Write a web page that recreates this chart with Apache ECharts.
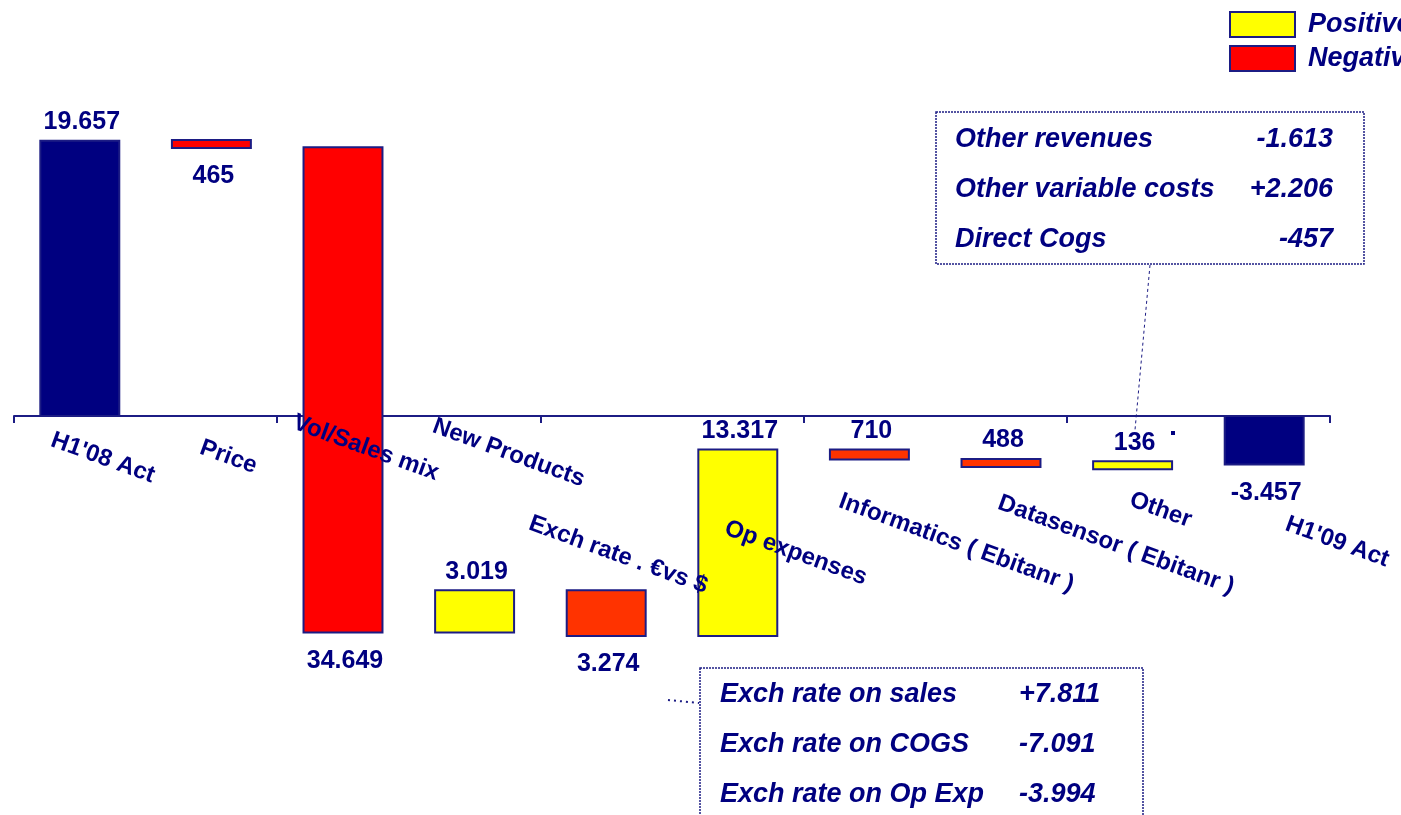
<!DOCTYPE html>
<html>
<head>
<meta charset="utf-8">
<script src="https://cdn.jsdelivr.net/npm/echarts@6/dist/echarts.min.js"></script>
<style>
  html, body { margin: 0; padding: 0; background: #fff; }
  #chart { width: 1401px; height: 815px; }
</style>
</head>
<body>
<div id="chart"></div>
<script>
// waterfall data (values in thousands, shown with dot separator)
const categories = ["H1'08 Act", 'Price', 'Vol/Sales mix', 'New Products', 'Exch rate . €vs $',
  'Op expenses', 'Informatics ( Ebitanr )', 'Datasensor ( Ebitanr )', 'Other', "H1'09 Act"];
const openingTotal = 19657;
const changes = [-465, -34649, 3019, -3274, 13317, -710, -488, 136];
const closingTotal = -3457;

// side notes
const otherNotes = ['Other revenues', 'Other variable costs', 'Direct Cogs'];
const otherNoteValues = ['-1.613', '+2.206', '-457'];
const exchNotes = ['Exch rate on sales', 'Exch rate on COGS', 'Exch rate on Op Exp'];
const exchNoteValues = ['+7.811', '-7.091', '-3.994'];

// styling per bar
const barFill = ['#000080', '#FF0000', '#FF0000', '#FFFF00', '#FF3300', '#FFFF00', '#FF3300', '#FF3300', '#FFFF00', '#000080'];
const labelSide = ['top', 'bottom', 'bottom', 'top', 'bottom', 'top', 'top', 'top', 'top', 'bottom'];
// category label nudges (px) from bar centre on the zero line
const catLabelOffset = [[23, 42], [17, 41], [23, 32], [34, 37], [12, 139], [58, 137], [87, 127], [115, 129], [28, 94], [73, 126]];

const NAVY = '#000080';
const EDGE = '#1c1c84';

function fmt(v, signed) {
  const s = String(Math.abs(v)).replace(/\B(?=(\d{3})+(?!\d))/g, '.');
  return (signed && v < 0 ? '-' : '') + s;
}

// build waterfall steps
const totalData = [[0, 0, openingTotal, openingTotal], [categories.length - 1, 0, closingTotal, closingTotal]];
const posData = [];
const negData = [];
let run = openingTotal;
changes.forEach(function (d, k) {
  const item = [k + 1, run, run + d, d];
  (d >= 0 ? posData : negData).push(item);
  run += d;
});

function renderBar(params, api) {
  const i = api.value(0);
  const a = api.coord([i, api.value(1)]);
  const b = api.coord([i, api.value(2)]);
  const w = api.size([1, 0])[0] * 0.6;
  let top = Math.min(a[1], b[1]);
  let h = Math.abs(a[1] - b[1]);
  if (h < 8) { top -= (8 - h) / 2; h = 8; }
  const isTotal = params.seriesName === 'Totals';
  const v = api.value(3);
  const above = labelSide[i] === 'top';
  return {
    type: 'group',
    children: [
      {
        type: 'rect',
        shape: { x: a[0] - w / 2, y: top, width: w, height: h },
        style: { fill: barFill[i], stroke: EDGE, lineWidth: 2 }
      },
      {
        type: 'text',
        x: a[0] + 2,
        y: above ? top - 6 : top + h + 16,
        style: {
          text: fmt(v, isTotal),
          fill: NAVY,
          font: 'bold 25px "Liberation Sans", Arial, sans-serif',
          align: 'center',
          verticalAlign: above ? 'bottom' : 'top'
        }
      }
    ]
  };
}

function renderCatLabel(params, api) {
  const i = api.value(0);
  const p = api.coord([i, 0]);
  const off = catLabelOffset[i];
  return {
    type: 'text',
    x: p[0] + off[0],
    y: p[1] + off[1],
    rotation: -20 * Math.PI / 180,
    style: {
      text: categories[i],
      fill: NAVY,
      font: 'bold 24px "Liberation Sans", Arial, sans-serif',
      align: 'center',
      verticalAlign: 'middle'
    }
  };
}

const noteFont = 'italic bold 27px "Liberation Sans", Arial, sans-serif';
const graphics = [
  { type: 'rect', shape: { x: 936, y: 112, width: 428, height: 152 },
    style: { fill: null, stroke: EDGE, lineWidth: 1.5, lineDash: [2, 1] } },
  { type: 'line', shape: { x1: 1150, y1: 265, x2: 1135, y2: 430 },
    style: { stroke: EDGE, lineWidth: 1, lineDash: [3, 3] } },
  { type: 'rect', shape: { x: 1171, y: 431, width: 4, height: 4 }, style: { fill: NAVY } },
  { type: 'rect', shape: { x: 700, y: 668, width: 443, height: 170 },
    style: { fill: null, stroke: EDGE, lineWidth: 1.5, lineDash: [2, 1] } },
  { type: 'line', shape: { x1: 668, y1: 700, x2: 699, y2: 703 },
    style: { stroke: EDGE, lineWidth: 2, lineDash: [2, 4] } }
];
otherNotes.forEach(function (t, k) {
  graphics.push({ type: 'text', x: 955, y: 140 + 50 * k,
    style: { text: t, fill: NAVY, font: noteFont, verticalAlign: 'middle' } });
  graphics.push({ type: 'text', x: 1333, y: 140 + 50 * k,
    style: { text: otherNoteValues[k], fill: NAVY, font: noteFont, align: 'right', verticalAlign: 'middle' } });
});
exchNotes.forEach(function (t, k) {
  graphics.push({ type: 'text', x: 720, y: 695 + 50 * k,
    style: { text: t, fill: NAVY, font: noteFont, verticalAlign: 'middle' } });
  graphics.push({ type: 'text', x: 1019, y: 695 + 50 * k,
    style: { text: exchNoteValues[k], fill: NAVY, font: noteFont, verticalAlign: 'middle' } });
});

const chart = echarts.init(document.getElementById('chart'));
chart.setOption({
  animation: false,
  backgroundColor: '#fff',
  grid: { left: 14, right: 71, top: 136, bottom: 175 },
  legend: {
    orient: 'vertical',
    left: 1229,
    top: 11,
    padding: 0,
    itemGap: 7,
    itemWidth: 65,
    itemHeight: 25,
    icon: 'rect',
    selectedMode: false,
    textStyle: { color: NAVY, fontSize: 27, fontWeight: 'bold', fontStyle: 'italic',
      fontFamily: '"Liberation Sans", Arial, sans-serif', lineHeight: 25, padding: [0, 0, 0, 8] },
    data: [
      { name: 'Positive', itemStyle: { color: '#FFFF00', borderColor: EDGE, borderWidth: 2 } },
      { name: 'Negative', itemStyle: { color: '#FF0000', borderColor: EDGE, borderWidth: 2 } }
    ]
  },
  xAxis: {
    type: 'category',
    data: categories,
    boundaryGap: true,
    axisLine: { onZero: true, lineStyle: { color: EDGE, width: 2 } },
    axisTick: { show: true, inside: false, length: 7, lineStyle: { color: EDGE, width: 2 } },
    axisLabel: { show: false },
    splitLine: { show: false }
  },
  yAxis: {
    type: 'value',
    min: -16000,
    max: 20000,
    show: false,
    splitLine: { show: false }
  },
  series: [
    { name: 'Totals', type: 'custom', renderItem: renderBar, data: totalData, z: 3,
      itemStyle: { color: '#000080' } },
    { name: 'Positive', type: 'custom', renderItem: renderBar, data: posData, z: 3,
      itemStyle: { color: '#FFFF00' } },
    { name: 'Negative', type: 'custom', renderItem: renderBar, data: negData, z: 3,
      itemStyle: { color: '#FF0000' } },
    { name: 'labels', type: 'custom', renderItem: renderCatLabel, silent: true, z: 5,
      data: categories.map(function (c, i) { return [i, 0]; }) }
  ],
  graphic: graphics
});
</script>
</body>
</html>
